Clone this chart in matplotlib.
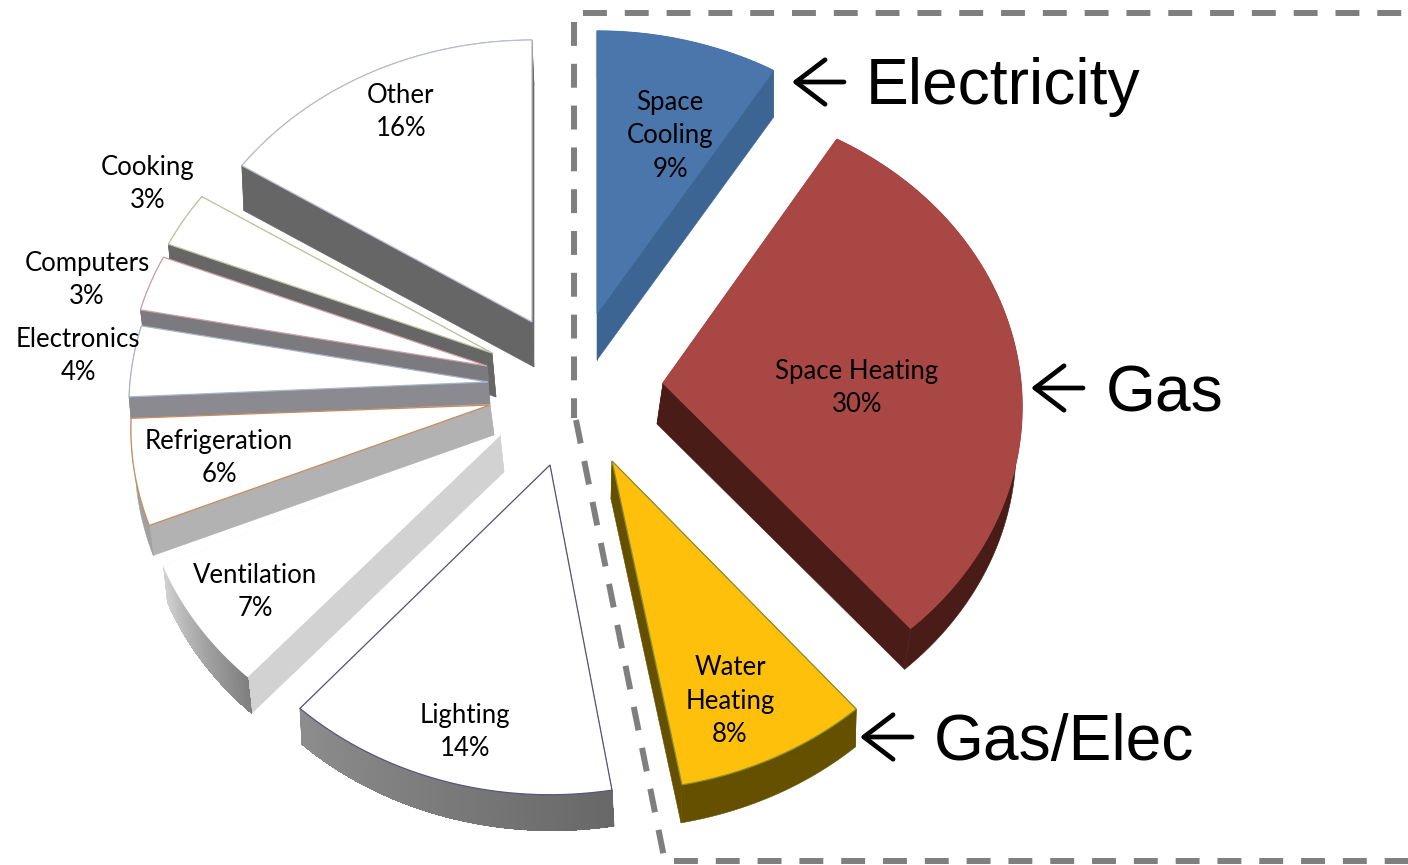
#!/usr/bin/env python3
# -*- coding: utf-8 -*-
"""Building energy end use, exploded 3D style pie with fuel callouts."""

import numpy as np
import matplotlib
matplotlib.use('Agg')
import matplotlib.pyplot as plt
from matplotlib.colors import to_rgb
from matplotlib.patches import Polygon

# data, clockwise from 12 o'clock
categories = ['Space\nCooling', 'Space Heating', 'Water\nHeating', 'Lighting', 'Ventilation',
              'Refrigeration', 'Electronics', 'Computers', 'Cooking', 'Other']
shares = [9, 30, 8, 14, 7, 6, 4, 3, 3, 16]
fuel_labels = ['Electricity', 'Gas', 'Gas/Elec']

# layout (pixels of the 1408x865 picture)
RX, RY, TILT = 358, 304, 0.078
APEX = [(597, 313), (663, 383), (612, 461), (550, 465), (500, 435),
        (490, 405), (488, 382), (487, 366), (492, 353), (532, 322)]
DEPTH = [(0, 47), (-6, 41), (-1, 38), (2, 36), (4, 37),
         (4, 30), (2, 22), (2, 16), (4, 44), (2, 45)]
# the drawn perspective does not keep the true angles, degrees off per slice
START_NUDGE = [0, -1.2, -0.3, 1.6, 2.0, 2.6, 0.8, 0, 0, 0]
STOP_NUDGE = [-0.7, -1.0, 0.4, 1.5, 0.6, 1.1, 0, 0, 0, 0]
LABEL_POS = [(670, 136), (857, 388), (730, 701), (465, 732), (255, 592),
             (219, 458), (78, 356), (87, 280), (148, 184), (401, 112)]
FUEL_TEXT_POS = [(866, 87), (1106, 394), (934, 743)]
ARROW_TIP = [(792, 82), (1031, 388), (860, 737)]
ARROW_LEN = 52

# styles
TOP_COLORS = ['#4a76ac', '#a94744', '#fec00a'] + ['white'] * 7
EDGE_COLORS = ['#4a76ac', '#a94744', '#8a8f30', '#55557f', 'white',
               '#c88c5c', '#a8b4cc', '#d0a0a8', '#c0c4a0', '#b8bcd0']
RADIAL_COLORS = ['#3d6594', '#4a1c18', '#655000', '#6a6a6a', '#d2d2d2',
                 '#b2b2b2', '#8a8a90', '#7b7b7f', '#666666', '#666666']
ARC_FROM = ['#3d6594', '#4a1c18', '#655000', '#686868', '#7f7f7f',
            '#a0a0a0', '#8a8a90', '#7b7b7f', '#666666', '#666666']
ARC_TO = ['#3d6594', '#4a1c18', '#655000', '#8c8c8c', '#cfcfcf',
          '#a0a0a0', '#8a8a90', '#7b7b7f', '#666666', '#666666']
DASH_GRAY = '#7f7f7f'


def rim_points(apex, start, stop, n=80):
    """Outer rim of a slice, tilted so the far side comes out smaller."""
    theta = np.linspace(start, stop, n)
    u, v = np.sin(theta), np.cos(theta)
    p = 1 / (1 + TILT * v)
    return np.column_stack([apex[0] + RX * u * p, apex[1] - RY * v * p])


def draw_slice(ax, i, start, stop):
    apex = np.array(APEX[i], dtype=float)
    depth = np.array(DEPTH[i], dtype=float)
    rim = rim_points(apex, start, stop)

    # the two cut faces
    for edge in (rim[0], rim[-1]):
        quad = [apex, edge, edge + depth, apex + depth]
        ax.add_patch(Polygon(quad, closed=True, fc=RADIAL_COLORS[i], ec=RADIAL_COLORS[i], lw=0.4))

    # outer wall, the shaded ones get strips on top of a plain wall
    wall = np.vstack([rim, (rim + depth)[::-1]])
    ax.add_patch(Polygon(wall, closed=True, fc=ARC_FROM[i], ec=ARC_FROM[i], lw=0.4))
    if ARC_FROM[i] != ARC_TO[i]:
        c0, c1 = np.array(to_rgb(ARC_FROM[i])), np.array(to_rgb(ARC_TO[i]))
        for k in range(len(rim) - 2):
            col = c0 + (c1 - c0) * k / (len(rim) - 3)
            quad = [rim[k], rim[k + 2], rim[k + 2] + depth, rim[k] + depth]
            ax.add_patch(Polygon(quad, closed=True, fc=col, ec='none', antialiased=False))

    top = np.vstack([apex, rim])
    ax.add_patch(Polygon(top, closed=True, fc=TOP_COLORS[i], ec=EDGE_COLORS[i], lw=0.9))


fig = plt.figure(figsize=(14.08, 8.65), dpi=100)
ax = fig.add_axes([0, 0, 1, 1])
ax.set_xlim(0, 1408)
ax.set_ylim(865, 0)
ax.axis('off')

# dashed box round the HVAC slices
dash = dict(color=DASH_GRAY, lw=4.3, linestyle=(0, (4.0, 3.0)), dash_capstyle='butt')
ax.plot([583, 1408], [12.5, 12.5], **dash)
ax.plot([574, 574], [22, 418], **dash)
ax.plot([576, 664], [420, 857], **dash)
ax.plot([674, 1408], [861, 861], **dash)

edges = np.deg2rad(np.concatenate([[0], np.cumsum(shares)]) * 3.6)

# far slices first so the near ones sit on top of them
order = [9, 8, 7, 6, 5, 4, 0, 1, 3, 2]
for i in order:
    draw_slice(ax, i, edges[i] + np.deg2rad(START_NUDGE[i]), edges[i + 1] + np.deg2rad(STOP_NUDGE[i]))

for name, share, (x, y) in zip(categories, shares, LABEL_POS):
    ax.text(x, y, f'{name}\n{share}%', ha='center', va='center', fontsize=18.5,
            family='Lato', color='black', linespacing=1.42)

for text, (x, y) in zip(fuel_labels, FUEL_TEXT_POS):
    ax.text(x, y, text, ha='left', va='center', fontsize=46.2,
            family='Liberation Sans', color='black')

for x, y in ARROW_TIP:
    ax.annotate('', xy=(x, y), xytext=(x + ARROW_LEN, y),
                arrowprops=dict(arrowstyle='->,head_length=21,head_width=16', mutation_scale=1,
                                lw=3.4, color='black', shrinkA=0, shrinkB=0))

fig.savefig('out.png', dpi=100)
